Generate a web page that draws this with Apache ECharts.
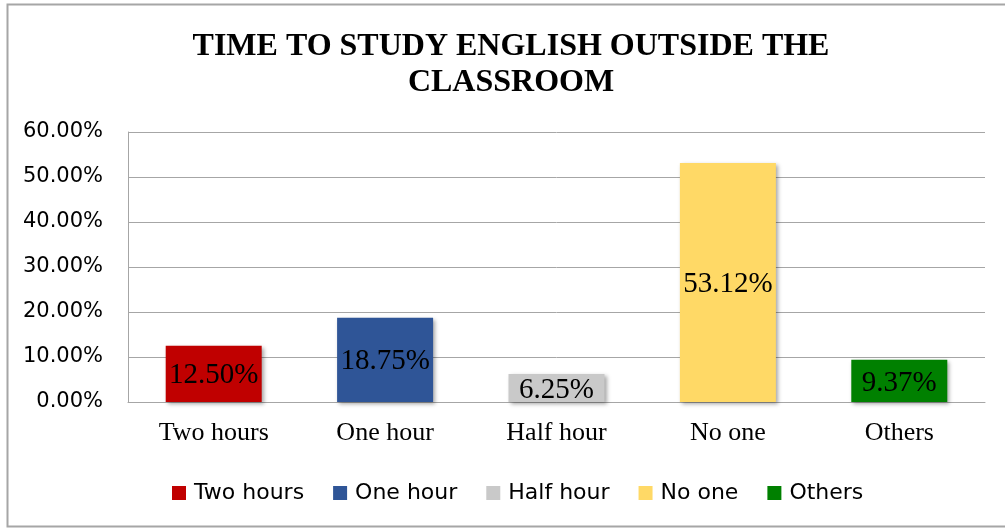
<!DOCTYPE html>
<html>
<head>
<meta charset="utf-8">
<script src="https://cdn.jsdelivr.net/npm/echarts@6/dist/echarts.min.js"></script>
<style>
  html, body { margin: 0; padding: 0; background: #fff; }
  #main { width: 1005px; height: 529px; }
</style>
</head>
<body>
<div id="main"></div>
<script>
var categories = ['Two hours', 'One hour', 'Half hour', 'No one', 'Others'];
var values = [12.50, 18.75, 6.25, 53.12, 9.37];
var colors = ['#C00000', '#2F5597', '#C9C9C9', '#FFD966', '#008000'];

// 每个类别一个系列，方便图例显示
var series = [];
for (var i in categories) {
    var ds = [];
    for (var j in categories) {
        ds.push(i == j ? values[i] : '-');
    }
    series.push({
        name: categories[i],
        type: 'bar',
        stack: 'all',
        barWidth: 96,
        itemStyle: {
            color: colors[i],
            shadowColor: 'rgba(0,0,0,0.35)',
            shadowBlur: 4,
            shadowOffsetX: 2,
            shadowOffsetY: 2
        },
        label: {
            show: true,
            position: 'inside',
            offset: [0, 2],
            color: '#000',
            fontFamily: 'Liberation Serif',
            fontSize: 29,
            formatter: function(p) { return p.value.toFixed(2) + '%'; }
        },
        data: ds
    });
}

var myChart = echarts.init(document.getElementById('main'));
var option = {
    animation: false,
    title: {
        text: 'TIME TO STUDY ENGLISH OUTSIDE THE\nCLASSROOM',
        left: 506,
        top: 24,
        textAlign: 'center',
        textStyle: {
            fontFamily: 'Liberation Serif',
            fontWeight: 'bold',
            fontSize: 32,
            lineHeight: 36,
            color: '#000'
        }
    },
    graphic: [{
        type: 'rect',
        shape: { x: 7.5, y: 4.5, width: 1100, height: 522 },
        style: { fill: 'none', stroke: '#a6a6a6', lineWidth: 2 },
        silent: true
    }],
    legend: {
        data: categories,
        top: 477,
        left: 167,
        itemWidth: 14,
        itemHeight: 14,
        itemGap: 29,
        icon: 'rect',
        textStyle: {
            fontFamily: 'DejaVu Sans',
            fontSize: 22,
            color: '#000',
            padding: [0, 0, 0, 3]
        }
    },
    grid: {
        left: 128,
        right: 20,
        top: 132,
        bottom: 127,
        containLabel: false
    },
    xAxis: {
        type: 'category',
        data: categories,
        axisLine: { lineStyle: { color: '#a6a6a6' } },
        axisTick: { show: false },
        axisLabel: {
            color: '#000',
            fontFamily: 'Liberation Serif',
            fontSize: 26,
            margin: 18
        }
    },
    yAxis: {
        type: 'value',
        min: 0,
        max: 60,
        interval: 10,
        axisLine: { show: true, lineStyle: { color: '#a6a6a6' } },
        axisTick: { show: false },
        splitLine: { lineStyle: { color: '#a6a6a6' } },
        axisLabel: {
            color: '#000',
            fontFamily: 'DejaVu Sans',
            fontSize: 21,
            margin: 25,
            formatter: function(v) { return v.toFixed(2) + '%'; }
        }
    },
    series: series
};
myChart.setOption(option);
</script>
</body>
</html>
